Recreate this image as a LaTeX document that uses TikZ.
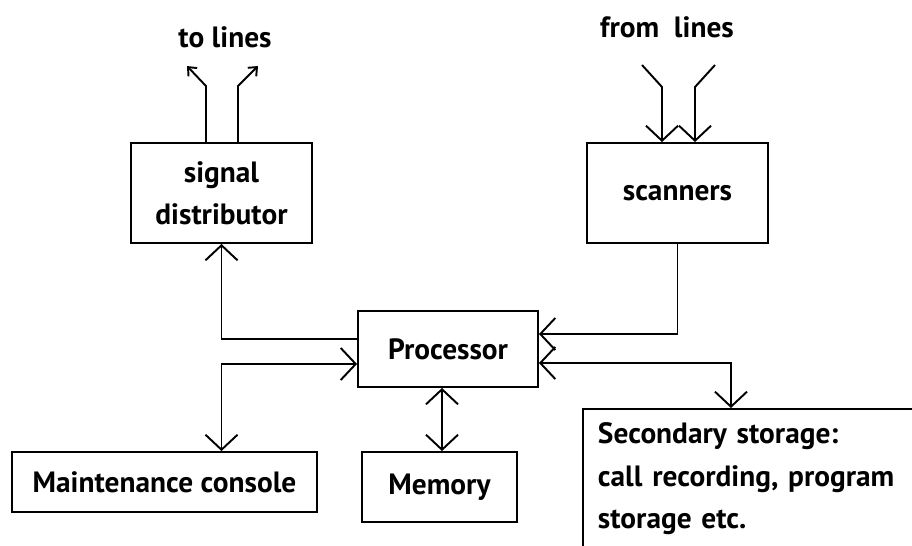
\documentclass[tikz,border=0pt]{standalone}
\usepackage{fontspec}
\setmainfont{PT Sans}
\usetikzlibrary{arrows.meta}
\begin{document}
\begin{tikzpicture}[x=0.02cm,y=-0.02cm,line width=1.1pt,
	>={Straight Barb[length=0.3cm,width=0.64cm]},
	box/.style={draw,inner sep=0pt,font=\fontsize{16.7}{24}\selectfont\bfseries,align=center},
	lbl/.style={font=\fontsize{16.7}{24}\selectfont\bfseries,anchor=base}]
	\useasboundingbox (0,0) rectangle (912,545);
	\node[box,minimum width=3.62cm,minimum height=2cm] (sig) at (221.5,193) {signal\\distributor};
	\node[box,minimum width=3.62cm,minimum height=2cm] (scan) at (677.5,193) {scanners};
	\node[box,minimum width=3.6cm,minimum height=1.52cm] (proc) at (448,349) {Processor};
	\node[box,minimum width=6.1cm,minimum height=1.2cm] (con) at (164.5,482) {Maintenance console};
	\node[box,minimum width=3.1cm,minimum height=1.4cm] (mem) at (439.5,487) {Memory};
	\node[box,anchor=north west,align=left,text width=6.5cm,inner xsep=0.3cm,inner ysep=0.28cm] (stor) at (582,408)
	{Secondary storage:\\call recording, program\\storage etc.};
	\node[lbl] (tolines) at (225,47) {to lines};
	\node[lbl] (fromlines) at (667,37) {from\enspace lines};
	\coordinate (in1) at (642,65);
	\coordinate (in2) at (715,65);
	\draw[-{Straight Barb[length=0.14cm,width=0.24cm]}] ([xshift=-0.31cm]sig.north) -- ++(0,-56) -- ++(-19,-20);
	\draw[-{Straight Barb[length=0.14cm,width=0.24cm]}] ([xshift=0.33cm]sig.north) -- ++(0,-56) -- ++(20,-20);
	\draw[->] (in1) -- ++(20,22) -- ([xshift=-0.31cm]scan.north);
	\draw[->] (in2) -- ++(-20,22) -- ([xshift=0.35cm]scan.north);
	\draw[->] ([yshift=0.2cm]proc.west) -| (sig.south);
	\draw[<->] (sig.south |- con.north) |- ([yshift=-0.3cm]proc.west);
	\draw[<->] ([xshift=-0.12cm]proc.south) -- ([xshift=-0.12cm]proc.south |- mem.north);
	\draw[->] (scan.south) |- ([yshift=0.3cm]proc.east);
	\draw[<->] ([yshift=-0.28cm]proc.east) -| ([xshift=2.98cm]stor.north west);
	%\draw (stor.south east) -- (stor.north east);
\end{tikzpicture}
\end{document}
